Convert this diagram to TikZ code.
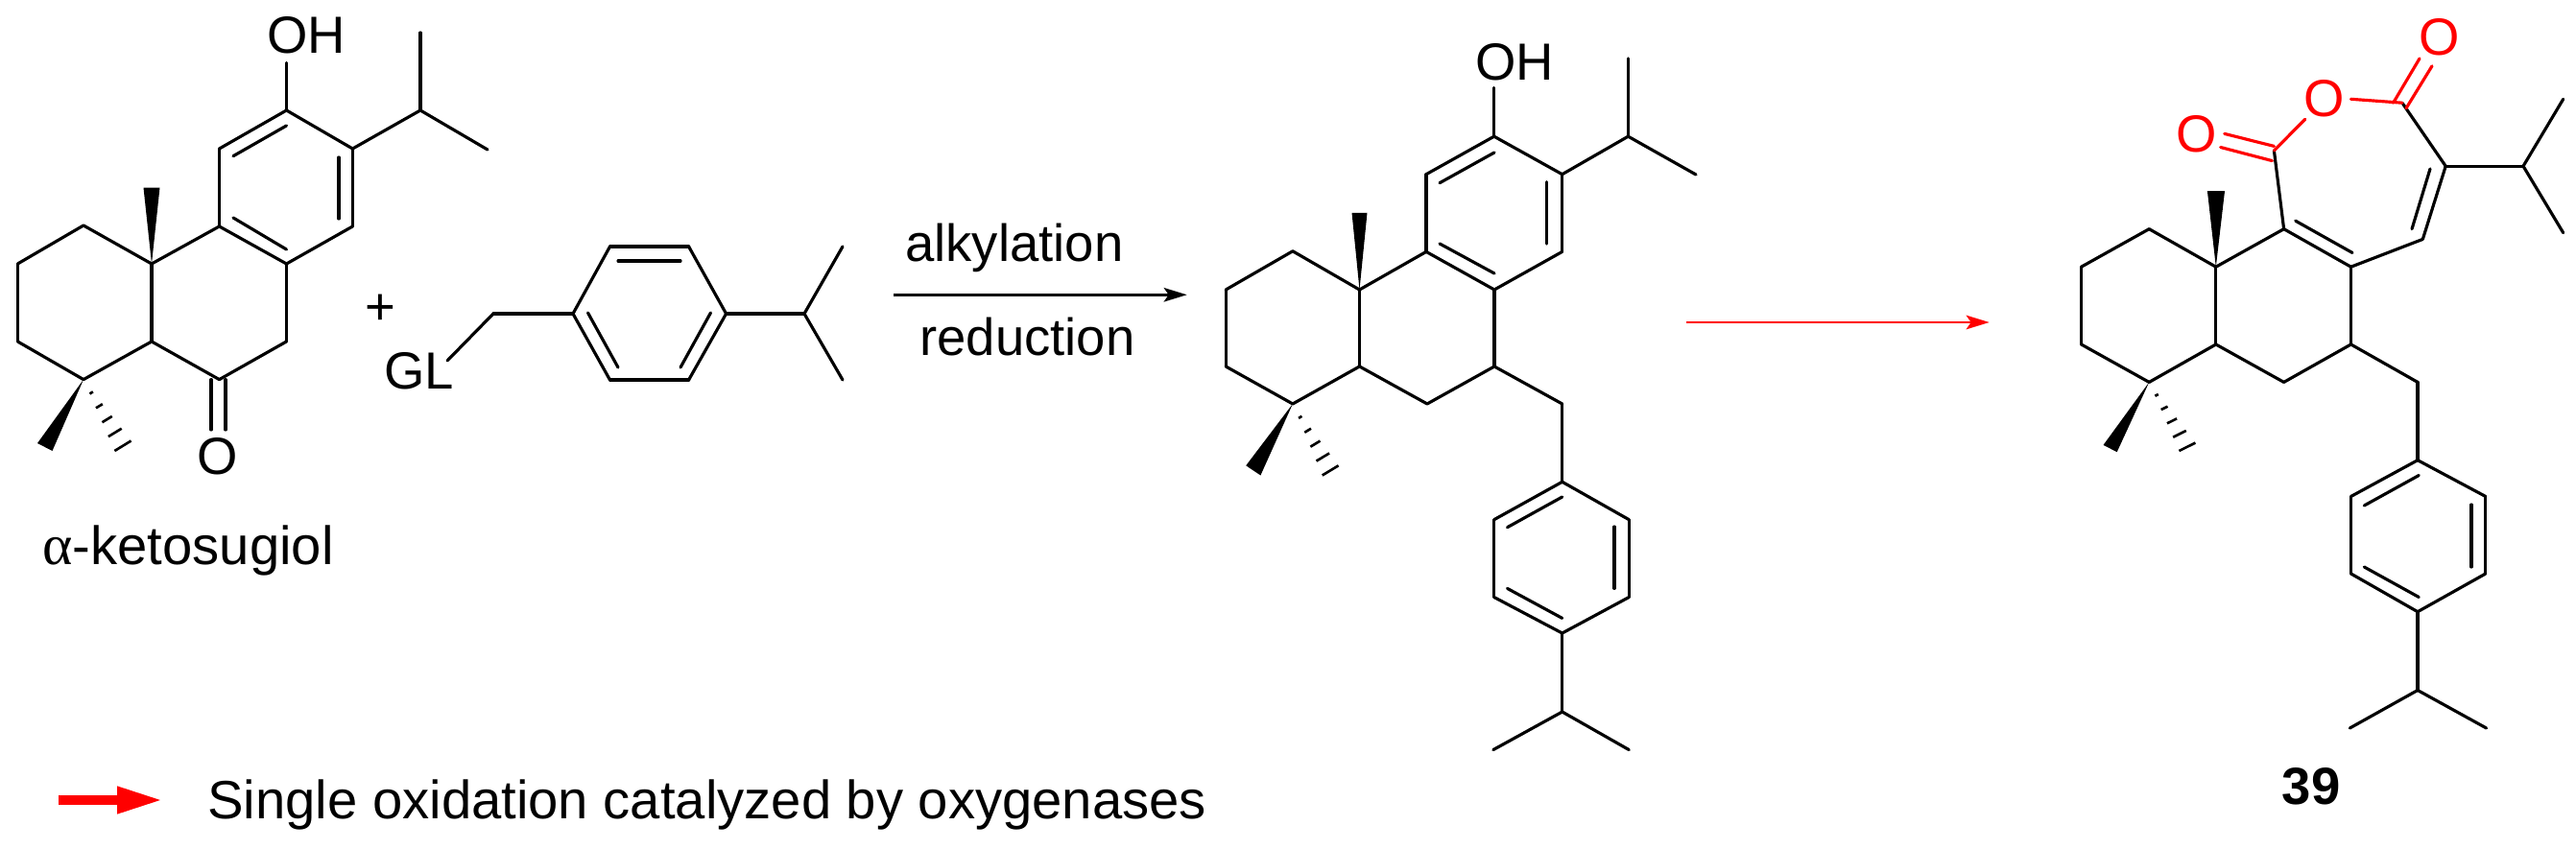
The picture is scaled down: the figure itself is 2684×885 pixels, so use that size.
\documentclass[tikz,border=0pt]{standalone}
\usepackage{fontspec}
\setmainfont{Liberation Sans}
\newfontfamily\alphafont{Liberation Serif}
\usetikzlibrary{arrows.meta, calc}
\tikzset{
    bond/.style={line width=1.8pt, line cap=round, line join=round},
    redbond/.style={bond, red},
    wedgebond/.style={fill=black, draw=none},
    chemlabel/.style={inner sep=0pt, font=\fontsize{31}{31}\selectfont},
    biglabel/.style={chemlabel, font=\fontsize{32}{32}\selectfont},
    reaction/.style={line width=1.7pt, -{Stealth[length=0.48cm,width=0.29cm,inset=0.1cm]}},
}
\newcommand{\hashbond}[3]{% apex, far end a, far end b
    \foreach \t in {0.2,0.4,0.6,0.8,1.0}
        \draw[line width=1.5pt] ($(#1)!\t!(#2)$) -- ($(#1)!\t!(#3)$);
}

\begin{document}
\begin{tikzpicture}[x=0.02cm,y=-0.02cm]
    \useasboundingbox (0,0) rectangle (2684,885);

    % Ketosugiol atoms
    \coordinate (a1) at (298.5,115);
    \coordinate (a2) at (367.4,155);
    \coordinate (a3) at (367.4,236);
    \coordinate (a4) at (298.5,275);
    \coordinate (a5) at (228.5,236);
    \coordinate (a6) at (228.5,155);
    \coordinate (a7) at (438,115);
    \coordinate (a8) at (438,34);
    \coordinate (a9) at (508,156);
    \coordinate (a10) at (158,275);
    \coordinate (a11) at (87,235);
    \coordinate (a12) at (18.4,275);
    \coordinate (a13) at (18.4,356);
    \coordinate (a14) at (87,395.6);
    \coordinate (a15) at (158,356);
    \coordinate (a16) at (228.5,395.6);
    \coordinate (a17) at (298.5,356);

    \foreach \u/\v in {a1/a2,a2/a3,a3/a4,a4/a5,a5/a6,a6/a1,a2/a7,a7/a8,a7/a9,a5/a10,a10/a11,a11/a12,a12/a13,a13/a14,a14/a15,a15/a10,a15/a16,a16/a17,a17/a4}
        \draw[bond] (\u) -- (\v);
    \draw[bond] (298.5,131) -- (243,162.7);
    \draw[bond] (353,164) -- (353,228);
    \draw[bond] (243,227) -- (298.5,260);

    \node[chemlabel, anchor=base west] (oh1) at (278,56) {OH};
    \draw[bond] (a1) -- (298.5,65.5);
    \node[chemlabel] (keto) at (227,476) {O};
    \draw[bond] (220,395.6) -- (220,448);
    \draw[bond] (235,395.6) -- (235,448);

    % Wedges and hashes
    \fill[wedgebond] (a10) -- (149.5,195.6) -- (166.5,195.6) -- cycle;
    \fill[wedgebond] (a14) -- (39,462) -- (54.5,470) -- cycle;
    \hashbond{a14}{119.4,470}{136.6,459.5}

    \node[biglabel, anchor=base west] (name1) at (44,588) {{\alphafont\fontsize{34}{34}\selectfont α}-ketosugiol};
    \node[chemlabel] (plus) at (396,323) {+};

    % Benzyl reagent
    \node[chemlabel, anchor=base west] (gl) at (400,405) {GL};
    \coordinate (g1) at (514,327);
    \coordinate (g2) at (597,327);
    \coordinate (g3) at (635.5,257);
    \coordinate (g4) at (717.6,257);
    \coordinate (g5) at (756.6,327);
    \coordinate (g6) at (717.6,396);
    \coordinate (g7) at (635.5,396);
    \coordinate (g8) at (838,327);
    \coordinate (g9) at (878,257);
    \coordinate (g10) at (878,396);
    \foreach \u/\v in {g1/g2,g2/g3,g3/g4,g4/g5,g5/g6,g6/g7,g7/g2,g5/g8,g8/g9,g8/g10}
        \draw[bond] (\u) -- (\v);
    \draw[bond] (466,376) -- (g1);
    \draw[bond] (644,272) -- (709,272);
    \draw[bond] (612.5,326) -- (644,383);
    \draw[bond] (740.5,326) -- (709,383);

    % First reaction arrow
    \coordinate (r1) at (931,307.3);
    \coordinate (r2) at (1236.7,307.3);
    \draw[reaction] (r1) -- (r2);
    \node[chemlabel, anchor=base west] (alk) at (943,272.7) {alkylation};
    \node[chemlabel, anchor=base west] (red) at (958,370) {reduction};

    % Alkylated product
    \coordinate (b1) at (1556.7,142.2);
    \coordinate (b2) at (1627.7,181.7);
    \coordinate (b3) at (1627.7,262.4);
    \coordinate (b4) at (1557,302);
    \coordinate (b5) at (1486,262.4);
    \coordinate (b6) at (1486,181.7);
    \coordinate (b7) at (1696.4,142.2);
    \coordinate (b8) at (1696.4,61);
    \coordinate (b9) at (1767,182);
    \coordinate (b10) at (1416.5,302);
    \coordinate (b11) at (1346.9,261.8);
    \coordinate (b12) at (1277.2,302);
    \coordinate (b13) at (1277.2,382);
    \coordinate (b14) at (1346.9,421);
    \coordinate (b15) at (1416.5,382);
    \coordinate (b16) at (1487,421);
    \coordinate (b17) at (1557,382);
    \coordinate (b18) at (1627.7,421);
    \coordinate (b19) at (1627.7,502.3);
    \coordinate (b20) at (1556.7,541.7);
    \coordinate (b21) at (1556.7,622.5);
    \coordinate (b22) at (1627.7,660);
    \coordinate (b23) at (1697.3,622.5);
    \coordinate (b24) at (1697.3,541.7);
    \coordinate (b25) at (1627.7,742);
    \coordinate (b26) at (1555.8,781.6);
    \coordinate (b27) at (1697.3,781.6);

    \foreach \u/\v in {b1/b2,b2/b3,b3/b4,b4/b5,b5/b6,b6/b1,b2/b7,b7/b8,b7/b9,b5/b10,b10/b11,b11/b12,b12/b13,b13/b14,b14/b15,b15/b10,b15/b16,b16/b17,b17/b4,b17/b18,b18/b19,b19/b20,b20/b21,b21/b22,b22/b23,b23/b24,b24/b19,b22/b25,b25/b26,b25/b27}
        \draw[bond] (\u) -- (\v);
    \draw[bond] (1557,159) -- (1500,190.7);
    \draw[bond] (1611.6,189.6) -- (1611.6,254);
    \draw[bond] (1500,254) -- (1557,285);
    \draw[bond] (1627.7,518) -- (1570.5,549.7);
    \draw[bond] (1682,549) -- (1682,613.4);
    \draw[bond] (1570.5,613.4) -- (1627.7,644.4);

    \node[chemlabel, anchor=base west] (oh2) at (1537,83.5) {OH};
    \draw[bond] (b1) -- (1556.7,91.4);
    \fill[wedgebond] (b10) -- (1408.5,221.8) -- (1424.5,221.8) -- cycle;
    \fill[wedgebond] (b14) -- (1298.2,485.3) -- (1313.4,495.5) -- cycle;
    \hashbond{b14}{1377.7,495.5}{1394.6,485.3}

    % Oxidation arrow
    \coordinate (s1) at (1757,336);
    \coordinate (s2) at (2072.7,336);
    \draw[reaction, red] (s1) -- (s2);

    % Compound 39
    \coordinate (c10) at (2308.8,278.2);
    \coordinate (c11) at (2239.2,238.7);
    \coordinate (c12) at (2168.5,278.2);
    \coordinate (c13) at (2168.5,359);
    \coordinate (c14) at (2239.2,398.4);
    \coordinate (c15) at (2308.8,359);
    \coordinate (c16) at (2379.6,398.4);
    \coordinate (c17) at (2449.5,359);
    \coordinate (c18) at (2519,398.4);
    \coordinate (c19) at (2519,479.7);
    \coordinate (c20) at (2449.5,517.5);
    \coordinate (c21) at (2449.5,598);
    \coordinate (c22) at (2519,637.7);
    \coordinate (c23) at (2589.8,598);
    \coordinate (c24) at (2589.8,517.5);
    \coordinate (c25) at (2519,719.5);
    \coordinate (c26) at (2448.3,759);
    \coordinate (c27) at (2590.6,759);
    \coordinate (c28) at (2379.6,238.7);
    \coordinate (c29) at (2449.5,278.2);
    \coordinate (c30) at (2524.3,249.4);
    \coordinate (c31) at (2548.2,173.2);
    \coordinate (c32) at (2629,173.2);
    \coordinate (c33) at (2670.7,103.3);
    \coordinate (c34) at (2670.7,242.7);
    \coordinate (c35) at (2369.4,157);
    \coordinate (c36) at (2502.9,107.2);

    \foreach \u/\v in {c10/c11,c11/c12,c12/c13,c13/c14,c14/c15,c15/c10,c15/c16,c16/c17,c17/c29,c29/c28,c28/c10,c17/c18,c18/c19,c19/c20,c20/c21,c21/c22,c22/c23,c23/c24,c24/c19,c22/c25,c25/c26,c25/c27,c29/c30,c30/c31,c31/c32,c32/c33,c32/c34,c28/c35,c31/c36}
        \draw[bond] (\u) -- (\v);
    \draw[bond] (2391.7,230.2) -- (2451,263.5);
    \draw[bond] (2532,176) -- (2513,238.7);
    \draw[bond] (2520.3,495.5) -- (2463.3,527);
    \draw[bond] (2574.9,526) -- (2574.9,591);
    \draw[bond] (2463.3,591) -- (2520.3,622.5);
    \fill[wedgebond] (c10) -- (2299.9,199.2) -- (2318,199.2) -- cycle;
    \fill[wedgebond] (c14) -- (2191.5,463.9) -- (2205.7,471.2) -- cycle;
    \hashbond{c14}{2270.4,470}{2287.4,461.6}

    % Anhydride part in red
    \node[chemlabel, red] (o1) at (2288.6,140) {O};
    \node[chemlabel, red] (o2) at (2421.2,102.7) {O};
    \node[chemlabel, red] (o3) at (2542,38.4) {O};
    \draw[redbond] (c35) -- (2401.8,124.2);
    \draw[redbond] (2449.5,103.3) -- (c36);
    \draw[redbond] (2317.7,139.4) -- (2369.4,152.4);
    \draw[redbond] (2313.6,153.5) -- (2367.4,167.6);
    \draw[redbond] (2521,61) -- (2493.6,107.2);
    \draw[redbond] (2534,68.8) -- (2507,112.9);

    \node[chemlabel, font=\fontsize{31}{31}\selectfont\bfseries] (n39) at (2408,820) {39};

    % Legend
    \coordinate (k1) at (60.5,834);
    \coordinate (k2) at (170,834);
    \draw[red, line width=5.7pt, -{Triangle[length=0.96cm,width=0.52cm]}] (k1) -- (k2);
    \node[biglabel, anchor=base west] (legend) at (216,853) {Single oxidation catalyzed by oxygenases};
\end{tikzpicture}
\end{document}
